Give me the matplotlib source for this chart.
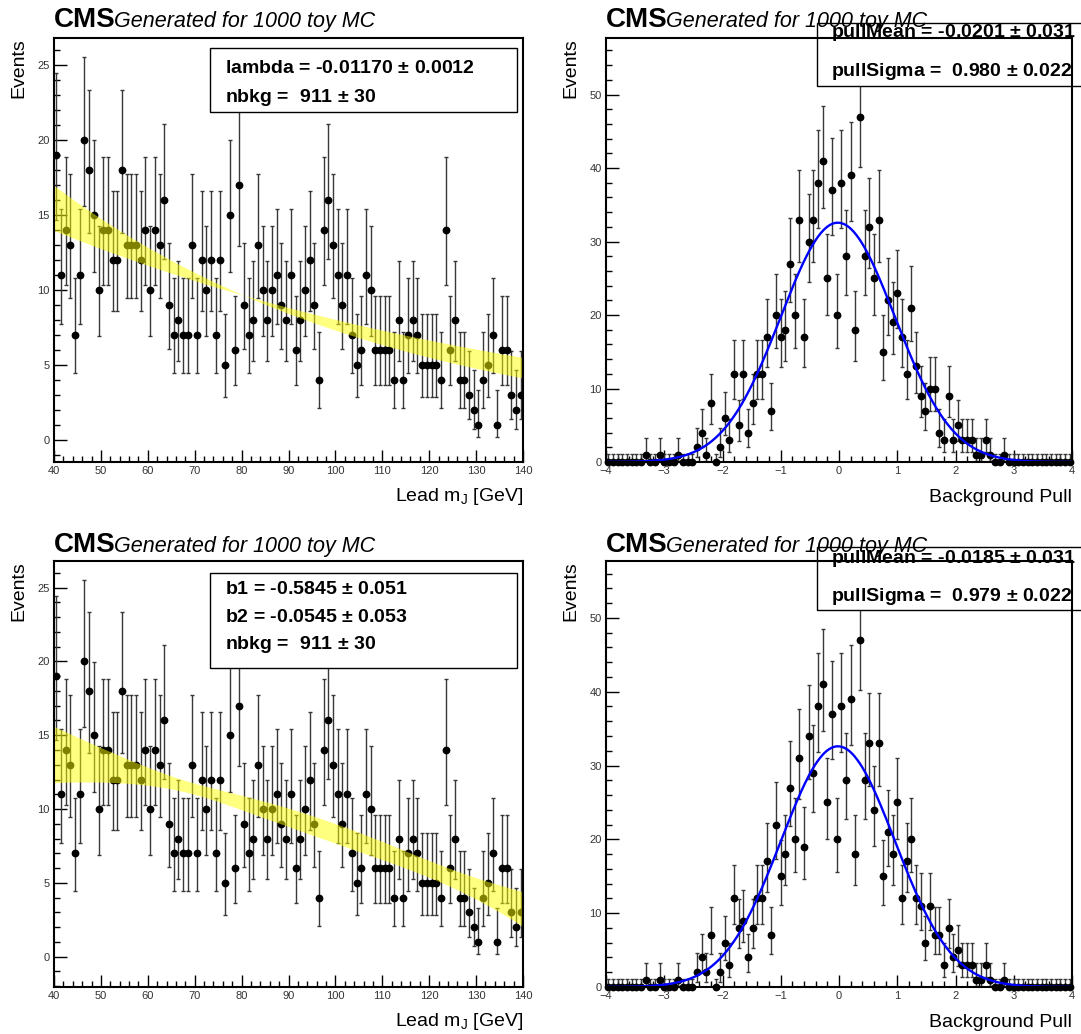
import math
import numpy as np
import matplotlib
matplotlib.use("Agg")
import matplotlib.pyplot as plt
from matplotlib.patches import Rectangle
from matplotlib.ticker import MultipleLocator

plt.rcParams['font.family'] = ['Liberation Sans', 'DejaVu Sans']
plt.rcParams['mathtext.default'] = 'regular'

# toy dataset: lead jet mass, 1 GeV bins from 40 to 140
mj_range = (40, 140)
mj_counts = [
    19, 11, 14, 13, 7, 11, 20, 18, 15, 10,
    14, 14, 12, 12, 18, 13, 13, 13, 12, 14,
    10, 14, 13, 16, 9, 7, 8, 7, 7, 13,
    7, 12, 10, 12, 7, 12, 5, 15, 6, 17,
    9, 7, 8, 13, 10, 8, 10, 11, 9, 8,
    11, 6, 8, 10, 12, 9, 4, 14, 16, 13,
    11, 9, 11, 7, 5, 6, 11, 10, 6, 6,
    6, 6, 4, 8, 4, 7, 8, 7, 5, 5,
    5, 5, 4, 14, 6, 8, 4, 4, 3, 2,
    1, 4, 5, 7, 1, 6, 6, 3, 2, 3,
]

# background pull distributions, 100 bins from -4 to 4
pull_range = (-4, 4)
pull_counts_exp = [
    0, 0, 0, 0, 0, 0, 0, 0, 1, 0,
    0, 1, 0, 0, 0, 1, 0, 0, 0, 2,
    4, 1, 8, 0, 2, 6, 3, 12, 5, 12,
    4, 8, 12, 12, 17, 7, 20, 17, 18, 27,
    20, 33, 17, 30, 33, 38, 41, 25, 37, 20,
    38, 28, 39, 18, 47, 28, 32, 25, 33, 15,
    22, 19, 23, 17, 12, 21, 13, 9, 7, 10,
    10, 4, 3, 9, 3, 5, 3, 3, 3, 1,
    1, 3, 1, 0, 0, 1, 0, 0, 0, 0,
    0, 0, 0, 0, 0, 0, 0, 0, 0, 0,
]
pull_counts_cheb = [
    0, 0, 0, 0, 0, 0, 0, 0, 1, 0,
    0, 1, 0, 0, 0, 1, 0, 0, 0, 2,
    4, 2, 7, 0, 2, 6, 3, 12, 8, 9,
    4, 8, 12, 12, 17, 7, 22, 15, 18, 27,
    20, 31, 19, 34, 29, 38, 41, 25, 37, 20,
    38, 28, 39, 18, 47, 28, 33, 24, 33, 15,
    21, 18, 25, 12, 17, 20, 12, 11, 6, 11,
    7, 7, 3, 8, 4, 5, 3, 3, 3, 1,
    1, 3, 1, 0, 0, 1, 0, 0, 0, 0,
    0, 0, 0, 0, 0, 0, 0, 0, 0, 0,
]

# fit results
n_toys = 1000
nbkg, nbkg_err = 911, 30
exp_lambda, exp_lambda_err = -0.01170, 0.0012
cheb_b1, cheb_b1_err = -0.5845, 0.051
cheb_b2, cheb_b2_err = -0.0545, 0.053
cheb_corr = -0.3
pull_mean = [-0.0201, -0.0185]
pull_mean_err = [0.031, 0.031]
pull_sigma = [0.980, 0.979]
pull_sigma_err = [0.022, 0.022]


def pois_cdf(n, mu):
    k = np.arange(n + 1)
    lg = np.array([math.lgamma(i + 1) for i in k])
    return np.exp(-mu + k * np.log(mu) - lg).sum()


def pois_interval(n, cl=0.682689):
    # RooFit style poisson errors
    if n == 0:
        return 0.0, -math.log(1 - cl)
    a = (1 - cl) / 2

    def solve(target, m):
        lo, hi = 1e-9, n + 20 * math.sqrt(n) + 10
        for _ in range(80):
            mid = 0.5 * (lo + hi)
            if pois_cdf(m, mid) > target:
                lo = mid
            else:
                hi = mid
        return 0.5 * (lo + hi)

    return solve(1 - a, n - 1), solve(a, n)


def exp_model(x, lam):
    a, b = mj_range
    return nbkg * lam * np.exp(lam * x) / (np.exp(lam * b) - np.exp(lam * a))


def cheb_model(x, b1, b2):
    a, b = mj_range
    half = (b - a) / 2
    t = (x - (a + b) / 2) / half
    p = 1 + b1 * t + b2 * (2 * t * t - 1)
    return nbkg * p / (half * (2 - 2 * b2 / 3))


def draw_points(ax, counts, rng, clip=True):
    counts = np.asarray(counts, dtype=float)
    edges = np.linspace(rng[0], rng[1], len(counts) + 1)
    centers = 0.5 * (edges[1:] + edges[:-1])
    iv = np.array([pois_interval(int(c)) for c in counts])
    yerr = [counts - iv[:, 0], iv[:, 1] - counts]
    ax.errorbar(centers, counts, yerr=yerr, fmt='o', color='black', ms=4.6,
                ecolor='#383838', elinewidth=1.0, capsize=1.6, capthick=1.0,
                zorder=3, clip_on=clip)


def style_axes(ax, xmaj, xmin, ymaj, ymin):
    ax.xaxis.set_major_locator(MultipleLocator(xmaj))
    ax.xaxis.set_minor_locator(MultipleLocator(xmin))
    ax.yaxis.set_major_locator(MultipleLocator(ymaj))
    ax.yaxis.set_minor_locator(MultipleLocator(ymin))
    ax.tick_params(which='both', direction='in', top=False, right=False,
                   width=1.0, labelsize=8, labelcolor='#333333')
    ax.tick_params(which='major', length=9, pad=3)
    ax.tick_params(which='minor', length=4.5)
    for s in ax.spines.values():
        s.set_linewidth(1.5)
        s.set_zorder(8)


def add_title(ax, dy):
    ax.text(0.0, 1 + dy, 'CMS', transform=ax.transAxes, fontsize=20,
            fontweight='bold', ha='left', va='baseline', zorder=9)
    ax.annotate('Generated for 1000 toy MC', xy=(0.0, 1 + dy),
                xycoords='axes fraction', xytext=(43, 0),
                textcoords='offset points', fontsize=15.5, style='italic',
                ha='left', va='baseline', zorder=9)


def add_box(ax, x0, x1, y0, y1, lines, xt, ys):
    ax.add_patch(Rectangle((x0, y0), x1 - x0, y1 - y0, transform=ax.transAxes,
                           facecolor='white', edgecolor='black', lw=1.0,
                           zorder=5, clip_on=False))
    for s, y in zip(lines, ys):
        ax.text(xt, y, s, transform=ax.transAxes, fontsize=14,
                fontweight='bold', ha='left', va='baseline', zorder=6,
                clip_on=False)


fig = plt.figure(figsize=(10.81, 10.34), dpi=100)
W, H = 1081, 1034
left_x, left_w = 54 / W, 469 / W
right_x, right_w = 606 / W, 466 / W
top_y, top_h = 1 - 462 / H, 424 / H
bot_y, bot_h = 1 - 987 / H, 426 / H

ax_exp = fig.add_axes([left_x, top_y, left_w, top_h])
ax_pe = fig.add_axes([right_x, top_y, right_w, top_h])
ax_cheb = fig.add_axes([left_x, bot_y, left_w, bot_h])
ax_pc = fig.add_axes([right_x, bot_y, right_w, bot_h])

xs = np.linspace(mj_range[0], mj_range[1], 400)

# exponential fit panel
draw_points(ax_exp, mj_counts, mj_range)
f0 = exp_model(xs, exp_lambda)
dl = 1e-6
dfdl = (exp_model(xs, exp_lambda + dl) - exp_model(xs, exp_lambda - dl)) / (2 * dl)
band = 2 * np.abs(dfdl) * exp_lambda_err
ax_exp.fill_between(xs, f0 - band, f0 + band, color='#ffff00', alpha=0.5,
                    lw=0, zorder=4)
ax_exp.set_xlim(*mj_range)
ax_exp.set_ylim(-1.5, 26.8)
style_axes(ax_exp, 10, 2, 5, 1)
add_box(ax_exp, 0.3326, 0.987, 0.8255, 0.976,
        ['lambda = %.5f $\\pm$ %.4f' % (exp_lambda, exp_lambda_err),
         'nbkg =  %d $\\pm$ %d' % (nbkg, nbkg_err)],
        0.3646, [0.9175, 0.849])

# chebychev fit panel
draw_points(ax_cheb, mj_counts, mj_range)
c0 = cheb_model(xs, cheb_b1, cheb_b2)
db = 1e-6
g1 = (cheb_model(xs, cheb_b1 + db, cheb_b2) - cheb_model(xs, cheb_b1 - db, cheb_b2)) / (2 * db)
g2 = (cheb_model(xs, cheb_b1, cheb_b2 + db) - cheb_model(xs, cheb_b1, cheb_b2 - db)) / (2 * db)
var = (g1 * cheb_b1_err) ** 2 + (g2 * cheb_b2_err) ** 2 \
    + 2 * cheb_corr * g1 * g2 * cheb_b1_err * cheb_b2_err
band = 2 * np.sqrt(var)
ax_cheb.fill_between(xs, c0 - band, c0 + band, color='#ffff00', alpha=0.5,
                     lw=0, zorder=4)
ax_cheb.set_xlim(*mj_range)
ax_cheb.set_ylim(-2.05, 26.8)
style_axes(ax_cheb, 10, 2, 5, 1)
add_box(ax_cheb, 0.3326, 0.987, 0.7488, 0.9718,
        ['b1 = %.4f $\\pm$ %.3f' % (cheb_b1, cheb_b1_err),
         'b2 = %.4f $\\pm$ %.3f' % (cheb_b2, cheb_b2_err),
         'nbkg =  %d $\\pm$ %d' % (nbkg, nbkg_err)],
        0.3646, [0.9225, 0.8568, 0.7934])

# pull panels
px = np.linspace(pull_range[0], pull_range[1], 500)
pull_bw = (pull_range[1] - pull_range[0]) / len(pull_counts_exp)
for i, (ax, counts) in enumerate([(ax_pe, pull_counts_exp), (ax_pc, pull_counts_cheb)]):
    draw_points(ax, counts, pull_range, clip=False)
    mu, sg = pull_mean[i], pull_sigma[i]
    gy = n_toys * pull_bw / (math.sqrt(2 * math.pi) * sg) * np.exp(-0.5 * ((px - mu) / sg) ** 2)
    ax.plot(px, gy, color='#0000ff', lw=1.7, zorder=4)
    ax.set_xlim(*pull_range)
    ax.set_ylim(0, 57.7)
    style_axes(ax, 1, 0.2, 10, 2)
    if i == 0:
        y0, y1, ys = 0.8868, 1.0354, [1.0024, 0.9104]
    else:
        y0, y1, ys = 0.885, 1.0329, [0.9953, 0.906]
    add_box(ax, 0.4528, 1.2, y0, y1,
            ['pullMean = %.4f $\\pm$ %.3f' % (pull_mean[i], pull_mean_err[i]),
             'pullSigma =  %.3f $\\pm$ %.3f' % (pull_sigma[i], pull_sigma_err[i])],
            0.4828, ys)

add_title(ax_exp, 0.026)
add_title(ax_pe, 0.026)
add_title(ax_cheb, 0.020)
add_title(ax_pc, 0.020)

for ax in (ax_exp, ax_cheb, ax_pe, ax_pc):
    ax.text(-0.075, 1.0, 'Events', transform=ax.transAxes, rotation=90,
            fontsize=14, ha='center', va='top')
for ax in (ax_exp, ax_cheb):
    ax.text(1.0, -0.092, 'Lead m$_J$ [GeV]', transform=ax.transAxes,
            fontsize=14, ha='right', va='baseline')
for ax in (ax_pe, ax_pc):
    ax.text(1.0, -0.094, 'Background Pull', transform=ax.transAxes,
            fontsize=14, ha='right', va='baseline')

fig.savefig('out.png', dpi=100)
